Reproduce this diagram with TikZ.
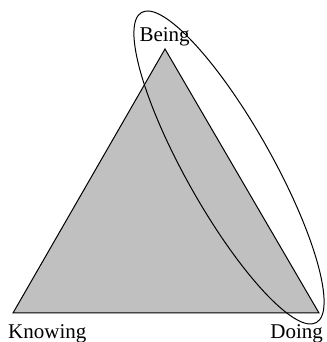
\documentclass[tikz,border=0pt]{standalone}
\usepackage{fontspec}
\setmainfont{Liberation Serif}
\usepackage{xcolor}
\usetikzlibrary{shapes.geometric}
\definecolor{triangle gray}{RGB}{192,192,192}

\begin{document}
\begin{tikzpicture}[
  x=1pt, y=1pt,
  corner/.style={font=\fontsize{21}{25}\selectfont, anchor=base, inner sep=0pt},
  outline/.style={draw=black, line width=1pt},
]
  \useasboundingbox (0,0) rectangle (326,342);

  % vertices of the triangle
  \coordinate (being) at (165,293);
  \coordinate (knowing) at (13,29);
  \coordinate (doing) at (319,29);

  \filldraw[outline, fill=triangle gray] (being) -- (knowing) -- (doing) -- cycle;

  \node[outline, ellipse, inner sep=0pt, minimum width=356pt, minimum height=86pt, rotate=-60.6] (focus) at (229,174.5) {};

  \node[corner] (being label) at (164.6,300) {Being};
  \node[corner] (knowing label) at (47.3,4) {Knowing};
  \node[corner] (doing label) at (296.6,4) {Doing};
\end{tikzpicture}
\end{document}
